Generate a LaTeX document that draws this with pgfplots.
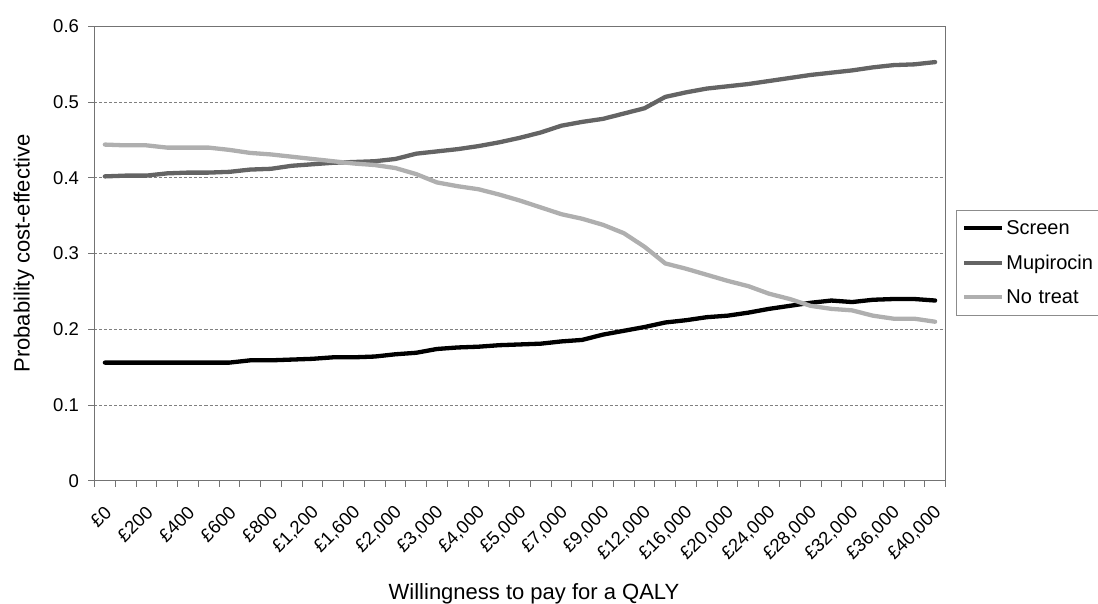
\documentclass[border=0pt]{standalone}
\usepackage{fontspec}
\setmainfont{Liberation Sans}
\usepackage{pgfplots}
\usepackage{pgfplotstable}
\pgfplotsset{compat=1.18}

\definecolor{screencol}{RGB}{0,0,0}
\definecolor{mupicol}{RGB}{100,100,100}
\definecolor{nocol}{RGB}{175,175,175}

% columns: category index, Screen, Mupirocin, No treat
\pgfplotstableread{
i   screen  mupi   notreat
0   0.156   0.402  0.444
1   0.156   0.403  0.443
2   0.156   0.403  0.443
3   0.156   0.406  0.440
4   0.156   0.407  0.440
5   0.156   0.407  0.440
6   0.156   0.408  0.437
7   0.159   0.411  0.433
8   0.159   0.412  0.431
9   0.160   0.416  0.428
10  0.161   0.418  0.425
11  0.163   0.420  0.422
12  0.163   0.421  0.419
13  0.164   0.422  0.417
14  0.167   0.425  0.413
15  0.169   0.432  0.405
16  0.174   0.435  0.394
17  0.176   0.438  0.389
18  0.177   0.442  0.385
19  0.179   0.447  0.378
20  0.180   0.453  0.370
21  0.181   0.460  0.361
22  0.184   0.469  0.352
23  0.186   0.474  0.346
24  0.193   0.478  0.338
25  0.198   0.485  0.327
26  0.203   0.492  0.309
27  0.209   0.507  0.287
28  0.212   0.513  0.280
29  0.216   0.518  0.272
30  0.218   0.521  0.264
31  0.222   0.524  0.257
32  0.227   0.528  0.247
33  0.231   0.532  0.240
34  0.235   0.536  0.231
35  0.238   0.539  0.227
36  0.236   0.542  0.225
37  0.239   0.546  0.218
38  0.240   0.549  0.214
39  0.240   0.550  0.214
40  0.238   0.553  0.210
}\ceadata

\begin{document}
\begin{tikzpicture}
\path[use as bounding box] (-94.5pt,-123.3pt) rectangle (1003.5pt,480.7pt);
\begin{axis}[
    scale only axis,
    width=851pt,
    height=454.2pt,
    xmin=-0.5, xmax=40.5,
    ymin=0, ymax=0.6,
    axis line style={draw=black!55, line width=0.9pt},
    tick pos=left,
    tick align=outside,
    major tick length=6pt,
    tick style={draw=black!55, line width=0.9pt},
    xtick={-0.5,0.5,...,40.5},
    xticklabel={\hbox{}},
    extra x ticks={0,2,...,40},
    extra x tick labels={{\pounds0},{\pounds200},{\pounds400},{\pounds600},{\pounds800},{\pounds1,200},{\pounds1,600},{\pounds2,000},{\pounds3,000},{\pounds4,000},{\pounds5,000},{\pounds7,000},{\pounds9,000},{\pounds12,000},{\pounds16,000},{\pounds20,000},{\pounds24,000},{\pounds28,000},{\pounds32,000},{\pounds36,000},{\pounds40,000}},
    extra x tick style={major tick length=0pt},
    xticklabel style={font=\fontsize{18.5}{22}\selectfont, inner sep=1pt, xshift=4pt, yshift=-28pt, rotate=45, anchor=east},
    ytick={0,0.1,...,0.6},
    yticklabel style={font=\fontsize{18.5}{22}\selectfont, xshift=-6pt},
    /pgf/number format/assume math mode=true,
    ymajorgrids,
    major grid style={draw=black!50, dash pattern=on 3pt off 2pt, line width=0.8pt},
    every axis y label/.style={at={(axis description cs:0,0.5)}, xshift=-70.5pt, rotate=90, anchor=center, font=\fontsize{22}{26}\selectfont},
    every axis x label/.style={at={(axis description cs:0,0)}, xshift=439.5pt, yshift=-119.3pt, anchor=base, font=\fontsize{22}{26}\selectfont},
    xlabel={Willingness to pay for a QALY},
    ylabel={Probability cost-effective},
    legend style={at={(1.0123,0.596)}, anchor=north west, draw=black!45, line width=0.8pt,
        font=\fontsize{20}{24}\selectfont, inner xsep=6pt, inner ysep=8pt,
        row sep=15pt, text width=90pt, cells={anchor=west}},
    legend image code/.code={\draw[#1, line width=4pt, line cap=butt] (0pt,0pt) -- (38pt,0pt);},
    every axis plot/.append style={line width=4.3pt, line cap=round, line join=round, mark=none},
]
\addplot[screencol] table[x=i, y=screen] {\ceadata};
\addlegendentry{Screen}
\addplot[mupicol] table[x=i, y=mupi] {\ceadata};
\addlegendentry{Mupirocin}
\addplot[nocol] table[x=i, y=notreat] {\ceadata};
\addlegendentry{No treat}
\end{axis}
\end{tikzpicture}
\end{document}
